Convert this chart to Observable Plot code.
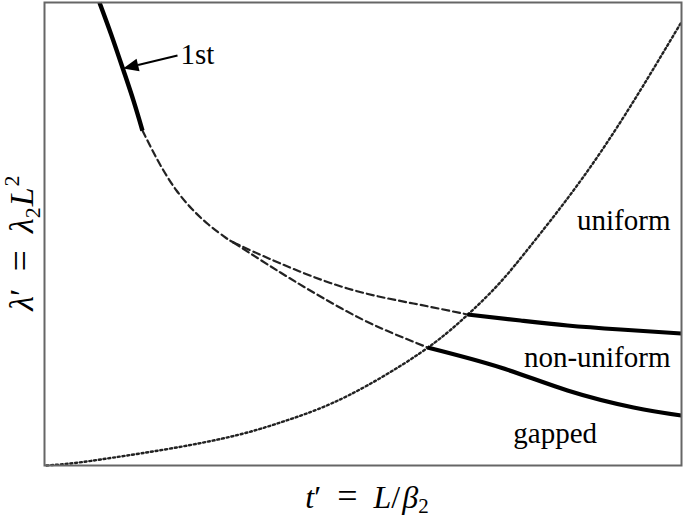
<!DOCTYPE html>
<html>
<head>
<meta charset="utf-8">
<script src="https://cdn.jsdelivr.net/npm/d3@7"></script>
<script src="https://cdn.jsdelivr.net/npm/@observablehq/plot@0.6"></script>
<style>
  html, body { margin: 0; padding: 0; background: #fff; }
</style>
</head>
<body>
<div id="chart"></div>
<script>
// ---- data (arbitrary units, no ticks in the original) ----
const firstSolidX = [0.833, 1.022, 1.211, 1.368, 1.509];
const firstSolidY = [10.0, 9.29, 8.53, 7.88, 7.235];

const commonDashX = [1.509, 1.667, 1.840, 2.044, 2.280, 2.547, 2.814, 2.940];
const commonDashY = [7.235, 6.803, 6.371, 5.940, 5.551, 5.205, 4.924, 4.816];

const upperDashX = [2.940, 3.679, 4.733, 5.770, 6.619];
const upperDashY = [4.816, 4.363, 3.823, 3.499, 3.261];

const upperSolidX = [6.619, 7.453, 8.192, 9.025, 9.98];
const upperSolidY = [3.261, 3.132, 3.024, 2.937, 2.851];

const lowerDashX = [2.940, 3.679, 4.308, 4.969, 5.566, 5.991];
const lowerDashY = [4.816, 4.168, 3.650, 3.153, 2.786, 2.549];

const lowerSolidX = [5.991, 7.138, 8.192, 9.230, 9.98];
const lowerSolidY = [2.549, 2.117, 1.620, 1.253, 1.080];

const dottedX = [0, 0.425, 0.959, 1.997, 3.050, 3.836, 4.670, 5.991, 6.619, 7.138, 7.579, 8.711, 9.969];
const dottedY = [0, 0.043, 0.151, 0.367, 0.648, 0.994, 1.404, 2.484, 3.240, 3.931, 4.687, 6.652, 9.546];

const startLabels = ["1st", "gapped"];
const startLabelX = [2.107, 7.34];
const startLabelY = [8.68, 0.49];
const endLabels = ["uniform", "non-uniform"];
const endLabelX = [9.811, 9.811];
const endLabelY = [5.08, 2.12];

const arrowFrom = {x: 2.060, y: 8.855};
const arrowBase = {x: 1.440, y: 8.65};

const xLabel = "t′ = L/β₂";
const yLabel = "λ′ = λ₂L²";

// ---- build tables ----
const pts = (xs, ys) => xs.map((x, i) => ({x, y: ys[i]}));
const txt = (ts, xs, ys) => ts.map((t, i) => ({t, x: xs[i], y: ys[i]}));

const serif = "'Liberation Serif', 'Times New Roman', Times, serif";

// filled arrowhead symbol: tip at (0,-L), base at (±W, 0)
const arrowHeadSymbol = {
  draw(ctx, size) {
    const r = Math.sqrt(size / Math.PI);
    const L = r * 2.4, W = L * 0.42;
    ctx.moveTo(0, -L);
    ctx.lineTo(W, 0);
    ctx.lineTo(-W, 0);
    ctx.closePath();
  }
};

const solid = {stroke: "#000", strokeWidth: 4.2, curve: "natural", strokeLinecap: "butt"};
const dashed = {stroke: "#222", strokeWidth: 2.2, strokeDasharray: "7,4", curve: "natural"};
const textStyle = {fontSize: 29, fontFamily: serif, fill: "#000", lineAnchor: "bottom"};

const chart = Plot.plot({
  width: 685,
  height: 517,
  marginLeft: 44,
  marginRight: 4,
  marginTop: 2,
  marginBottom: 52,
  x: {domain: [-0.031, 9.984], axis: null},
  y: {domain: [0, 10], axis: null},
  marks: [
    Plot.line(pts(dottedX, dottedY), {x: "x", y: "y", stroke: "#222", strokeWidth: 2.4, strokeDasharray: "2,2.8", curve: "basis"}),
    Plot.line(pts(commonDashX, commonDashY), {x: "x", y: "y", ...dashed}),
    Plot.line(pts(upperDashX, upperDashY), {x: "x", y: "y", ...dashed}),
    Plot.line(pts(lowerDashX, lowerDashY), {x: "x", y: "y", ...dashed}),
    Plot.line(pts(firstSolidX, firstSolidY), {x: "x", y: "y", ...solid, strokeWidth: 4.4}),
    Plot.line(pts(upperSolidX, upperSolidY), {x: "x", y: "y", ...solid}),
    Plot.line(pts(lowerSolidX, lowerSolidY), {x: "x", y: "y", ...solid}),
    Plot.link([{x1: arrowFrom.x, y1: arrowFrom.y, x2: arrowBase.x, y2: arrowBase.y}],
      {x1: "x1", y1: "y1", x2: "x2", y2: "y2", stroke: "#000", strokeWidth: 2}),
    Plot.dot([arrowBase], {x: "x", y: "y", r: 6.4, symbol: arrowHeadSymbol, fill: "#000", stroke: "none", rotate: 256.5}),
    Plot.text(txt(startLabels, startLabelX, startLabelY), {x: "x", y: "y", text: "t", textAnchor: "start", ...textStyle}),
    Plot.text(txt(endLabels, endLabelX, endLabelY), {x: "x", y: "y", text: "t", textAnchor: "end", ...textStyle}),
    Plot.frame({stroke: "#666", strokeWidth: 2})
  ]
});

document.getElementById("chart").appendChild(chart);

// ---- axis titles with italic math and sub/superscripts ----
const svg = d3.select(chart);
function piece(sel, t, opts = {}) {
  const s = sel.append("tspan").text(t);
  if (opts.italic) s.attr("font-style", "italic");
  if (opts.size) s.attr("font-size", opts.size);
  if (opts.dy != null) s.attr("dy", opts.dy);
  if (opts.dx != null) s.attr("dx", opts.dx);
  return s;
}

const xt = svg.append("text")
  .attr("x", 367)
  .attr("y", 508)
  .attr("text-anchor", "middle")
  .attr("font-family", serif)
  .attr("font-size", 32)
  .attr("fill", "#000")
  .attr("aria-label", xLabel);
piece(xt, "t", {italic: true});
piece(xt, "′\u2002");
piece(xt, "=", {size: 36});
piece(xt, "\u2002L", {italic: true});
piece(xt, "/");
piece(xt, "β", {italic: true, dx: 2});
piece(xt, "2", {size: 21, dy: 5});

const yt = svg.append("text")
  .attr("transform", "translate(33,243) rotate(-90)")
  .attr("text-anchor", "middle")
  .attr("font-family", serif)
  .attr("font-size", 34)
  .attr("fill", "#000")
  .attr("aria-label", yLabel);
piece(yt, "λ", {italic: true});
piece(yt, "′\u2002");
piece(yt, "=", {size: 38});
piece(yt, "\u2002λ", {italic: true});
piece(yt, "2", {size: 22, dy: 7});
piece(yt, "L", {italic: true, dy: -7, dx: 1});
piece(yt, "2", {size: 22, dy: -14, dx: 1});
</script>
</body>
</html>
